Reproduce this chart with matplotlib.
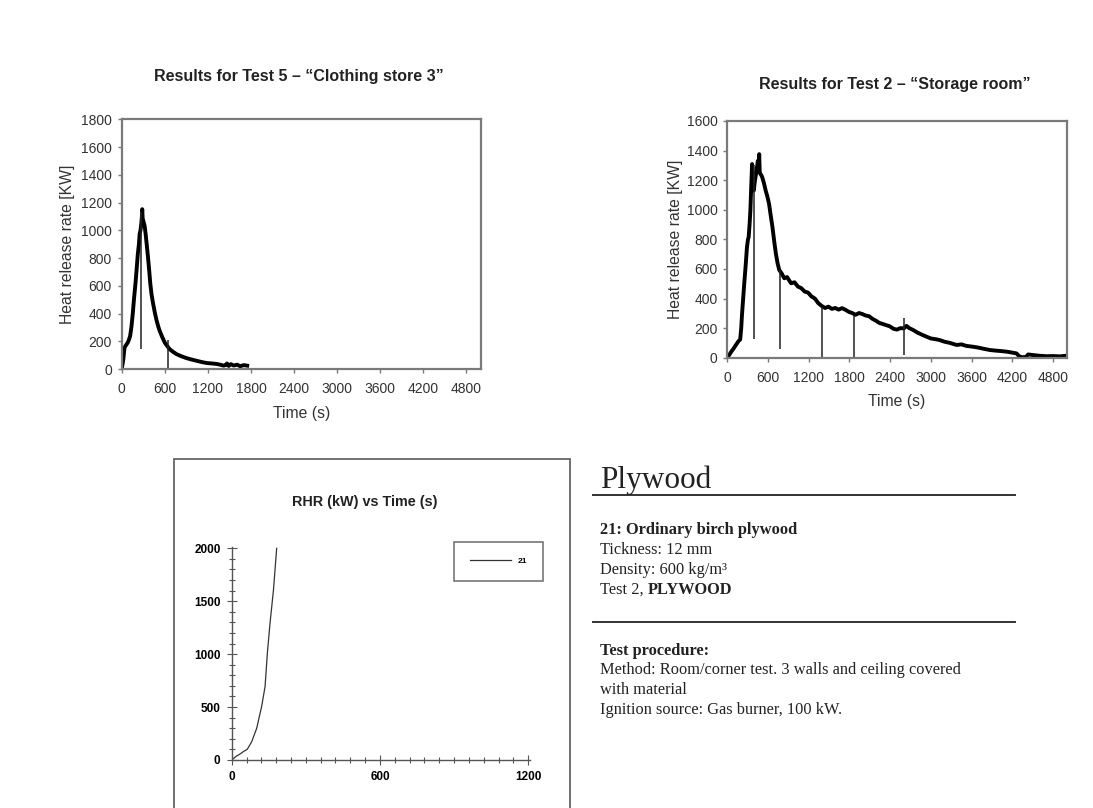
import matplotlib
matplotlib.use("Agg")
import matplotlib.pyplot as plt
from matplotlib.patches import Rectangle
from matplotlib.lines import Line2D
from matplotlib.ticker import MultipleLocator

plt.rcParams['font.family'] = ['Liberation Sans', 'DejaVu Sans']

# Test 5 - "Clothing store 3"
t5_time = [0, 12, 23, 38, 52, 68, 84, 100, 117, 135,
           155, 172, 192, 208, 225, 240, 250, 262, 272, 280,
           286, 292, 300, 310, 320, 333, 350, 366, 383, 398,
           415, 436, 460, 483, 507, 530, 565, 600, 635, 670,
           720, 764, 830, 905, 975, 1045, 1115, 1186, 1255, 1327,
           1380, 1420, 1450, 1467, 1490, 1520, 1560, 1608, 1650, 1700,
           1748]
t5_hrr = [0, 35, 71, 150, 166, 178, 190, 210, 237, 300,
          404, 510, 617, 720, 831, 900, 974, 1000, 1045, 1090,
          1152, 1085, 1070, 1050, 1030, 974, 890, 807, 710, 617,
          540, 475, 410, 356, 310, 273, 230, 190, 165, 142,
          122, 107, 92, 78, 68, 59, 50, 43, 40, 36,
          30, 24, 30, 40, 22, 35, 25, 31, 20, 28,
          24]
t5_mark_time = [275, 650]
t5_mark_low = [145, 0]
t5_mark_high = [1130, 210]

# Test 2 - "Storage room"
t2_time = [0, 30, 65, 90, 115, 140, 165, 190, 205, 215,
           232, 250, 270, 290, 305, 315, 328, 340, 352, 365,
           372, 380, 390, 402, 415, 430, 450, 462, 470, 478,
           490, 505, 515, 540, 565, 590, 615, 640, 665, 690,
           715, 740, 765, 800, 840, 880, 940, 990, 1040, 1090,
           1140, 1190, 1240, 1290, 1340, 1390, 1440, 1490, 1540, 1590,
           1640, 1690, 1740, 1790, 1840, 1890, 1940, 1990, 2040, 2090,
           2140, 2190, 2240, 2290, 2340, 2390, 2450, 2500, 2550, 2600,
           2640, 2680, 2739, 2800, 2870, 2935, 3000, 3070, 3131, 3200,
           3280, 3377, 3450, 3520, 3622, 3700, 3780, 3868, 3950, 4030,
           4113, 4190, 4260, 4300, 4340, 4400, 4432, 4500, 4604, 4700,
           4800, 4900, 4990]
t2_hrr = [0, 20, 45, 60, 78, 95, 112, 123, 200, 280,
          390, 503, 620, 749, 800, 816, 900, 995, 1150, 1309,
          1200, 1150, 1130, 1180, 1219, 1260, 1331, 1290, 1376, 1250,
          1241, 1230, 1219, 1180, 1130, 1090, 1040, 960, 884, 790,
          705, 640, 593, 570, 537, 545, 503, 510, 481, 470,
          447, 440, 414, 400, 369, 350, 336, 345, 330, 336,
          325, 335, 324, 310, 302, 290, 302, 295, 285, 280,
          262, 250, 235, 228, 220, 213, 195, 190, 200, 198,
          215, 200, 187, 170, 155, 142, 130, 125, 119, 108,
          100, 86, 90, 80, 74, 68, 60, 52, 48, 45,
          41, 35, 29, 10, 3, 5, 22, 18, 13, 10,
          11, 9, 13]
t2_mark_time = [395, 770, 1400, 1870, 2600]
t2_mark_low = [125, 60, 0, 0, 18]
t2_mark_high = [1300, 593, 345, 280, 266]

# Plywood RHR
rhr_time = [0, 20, 34, 47, 63, 81, 101, 121, 135, 144, 155, 169, 182]
rhr_kw = [0, 38, 57, 79, 101, 173, 299, 504, 693, 1001, 1291, 1606, 2000]

W, H = 1093, 808
fig = plt.figure(figsize=(W / 100, H / 100), dpi=100)


def px_rect(x0, y0, x1, y1):
    # pixel box measured from top-left -> figure fraction rect
    return [x0 / W, 1 - y1 / H, (x1 - x0) / W, (y1 - y0) / H]


def hrr_panel(rect, time, hrr, mt, ml, mh, ymax, title, title_xy, ylab_x, xlab_y):
    ax = fig.add_axes(px_rect(*rect))
    ax.plot(time, hrr, color='black', lw=2.8)
    ax.vlines(mt, ml, mh, color='#222222', lw=1.1)
    ax.set_xlim(0, 5000)
    ax.set_ylim(0, ymax)
    ax.set_xticks(range(0, 4801, 600))
    ax.set_yticks(range(0, ymax + 1, 200))
    for s in ax.spines.values():
        s.set_color('#7a7a7a')
        s.set_linewidth(1.6)
    ax.tick_params(direction='out', length=3, width=1, color='#7a7a7a',
                   labelsize=10, labelcolor='#333333')
    ax.tick_params(axis='x', pad=6.5)
    ax.tick_params(axis='y', pad=4)
    ax.set_xlabel('Time (s)', fontsize=11.3, color='#333333')
    ax.set_ylabel('Heat release rate [KW]', fontsize=11.3, color='#333333')
    ax.yaxis.set_label_coords(ylab_x, 0.5)
    ax.xaxis.set_label_coords(0.5, xlab_y)
    fig.text(title_xy[0] / W, 1 - title_xy[1] / H, title, ha='center', va='center',
             fontsize=11.5, fontweight='bold', color='#222222')
    return ax


hrr_panel((121.7, 119.3, 480.7, 369), t5_time, t5_hrr, t5_mark_time, t5_mark_low,
          t5_mark_high, 1800, 'Results for Test 5 \u2013 \u201cClothing store 3\u201d',
          (299, 76), -0.13, -0.15)
hrr_panel((727.3, 121, 1066.7, 357.7), t2_time, t2_hrr, t2_mark_time, t2_mark_low,
          t2_mark_high, 1600, 'Results for Test 2 \u2013 \u201cStorage room\u201d',
          (895, 84), -0.13, -0.155)

# bottom left: RHR chart inside a framed box
fig.add_artist(Rectangle((174 / W, -0.01), (570 - 174) / W, 1 - 459 / H + 0.01,
                         transform=fig.transFigure, fill=False,
                         edgecolor='#666666', lw=1.3))
ax3 = fig.add_axes(px_rect(231.7, 546.7, 530, 760))
ax3.plot(rhr_time, rhr_kw, color='#333333', lw=0.9, label='21')
ax3.set_xlim(0, 1207)
ax3.set_ylim(0, 2015)
ax3.spines['top'].set_visible(False)
ax3.spines['right'].set_visible(False)
for s in ('left', 'bottom'):
    ax3.spines[s].set_color('#555555')
    ax3.spines[s].set_linewidth(1)
ax3.xaxis.set_major_locator(MultipleLocator(600))
ax3.xaxis.set_minor_locator(MultipleLocator(60))
ax3.yaxis.set_major_locator(MultipleLocator(500))
ax3.yaxis.set_minor_locator(MultipleLocator(100))
ax3.tick_params(which='both', direction='inout', color='#555555', width=0.8)
ax3.tick_params(which='major', length=7, labelsize=8.5, pad=4.5)
ax3.tick_params(which='minor', length=4)
for lab in ax3.get_xticklabels() + ax3.get_yticklabels():
    lab.set_fontweight('bold')
ax3.set_facecolor('none')
fig.text(365 / W, 1 - 502 / H, 'RHR (kW) vs Time (s)', ha='center', va='center',
         fontsize=10.4, fontweight='bold', color='#222222')
leg = ax3.legend(loc='upper left',
                 bbox_to_anchor=((454 - 231.7) / 298.3, (760 - 541.7) / 213.3),
                 frameon=True, fancybox=False, edgecolor='#555555',
                 prop={'size': 6, 'weight': 'bold'}, handlelength=4.9,
                 borderpad=1.9, handletextpad=0.8, borderaxespad=0)
leg.get_frame().set_linewidth(1.2)

# material description panel
serif = ['Liberation Serif', 'DejaVu Serif']
fig.text(600 / W, 1 - 488 / H, 'Plywood', fontsize=22.5, family=serif,
         va='baseline', color='#222222')
for yy in (495, 622):
    fig.add_artist(Line2D([593 / W, 1015 / W], [1 - yy / H, 1 - yy / H],
                          transform=fig.transFigure, color='#333333', lw=1.4))

body = [
    (534, '21: Ordinary birch plywood', 'bold'),
    (554, 'Tickness: 12 mm', 'normal'),
    (574, 'Density: 600 kg/m\u00b3', 'normal'),
    (594, 'Test 2, ', 'normal'),
    (655, 'Test procedure:', 'bold'),
    (674.5, 'Method: Room/corner test. 3 walls and ceiling covered', 'normal'),
    (694, 'with material', 'normal'),
    (713.5, 'Ignition source: Gas burner, 100 kW.', 'normal'),
]
body_size = 11.8
last = None
for yy, txt, wt in body:
    t = fig.text(600 / W, 1 - yy / H, txt, fontsize=body_size, family=serif,
                 fontweight=wt, va='baseline', color='#222222')
    if txt.startswith('Test 2'):
        last = t
# bold part of the "Test 2, PLYWOOD" line follows the regular part
renderer = fig.canvas.get_renderer()
ext = last.get_window_extent(renderer)
fig.text(ext.x1 / W, 1 - 594 / H, 'PLYWOOD', fontsize=body_size, family=serif,
         fontweight='bold', va='baseline', color='#222222')

fig.savefig('out.png', dpi=100)
